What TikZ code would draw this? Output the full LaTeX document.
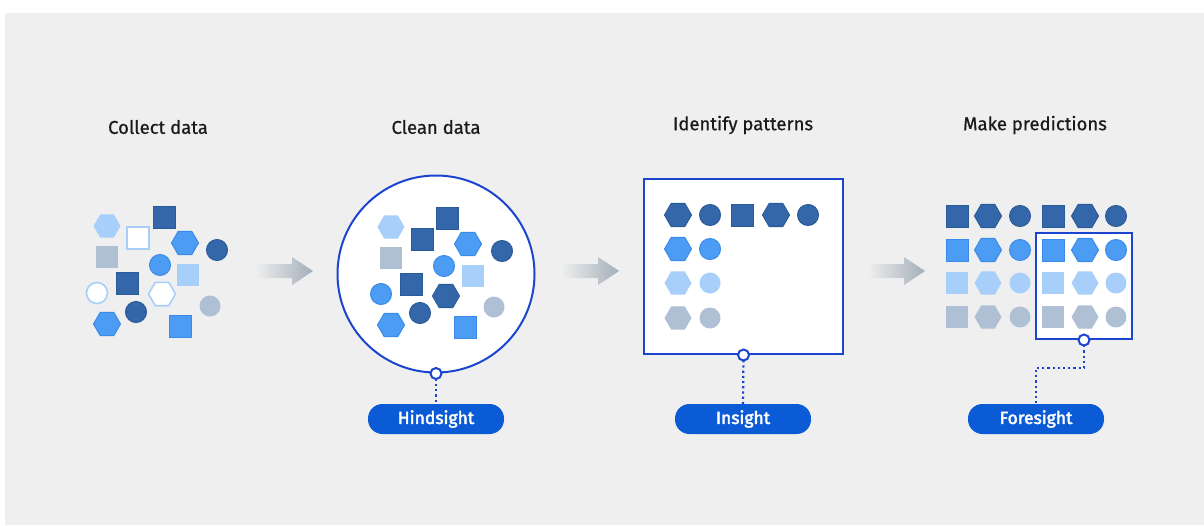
\documentclass[tikz,border=0pt]{standalone}
\usepackage{fontspec}
\setmainfont{Fira Sans}
\newfontfamily\titlefont[FakeBold=0.6]{Fira Sans}
\newfontfamily\pillfont[FakeBold=2.6]{Fira Sans}
\usetikzlibrary{shapes.geometric}
\definecolor{bg}{HTML}{EFEFEF}
\definecolor{cdark}{HTML}{3467A9}
\definecolor{cdarkb}{HTML}{2A5A98}
\definecolor{cmed}{HTML}{4C9CF4}
\definecolor{cmedb}{HTML}{3A8BE8}
\definecolor{clight}{HTML}{A8CEFA}
\definecolor{cgray}{HTML}{AFC0D5}
\definecolor{lineblue}{HTML}{1C45CF}
\definecolor{pillblue}{HTML}{0B5BD6}
\definecolor{arrowgray}{HTML}{A3AFB9}
\definecolor{titlecol}{HTML}{1A1A1A}
\tikzset{
  sq/.pic={\path[pic actions] (-11,-11) rectangle (11,11);},
  hx/.pic={\path[pic actions] (-13.5,0)--(-6.75,-11.7)--(6.75,-11.7)--(13.5,0)--(6.75,11.7)--(-6.75,11.7)--cycle;},
  ci/.pic={\path[pic actions] (0,0) circle (10.5);},
  dk/.style={fill=cdark, draw=cdarkb, line width=1},
  md/.style={fill=cmed, draw=cmedb, line width=1},
  lt/.style={fill=clight},
  gy/.style={fill=cgray},
  wh/.style={fill=white, draw=clight, line width=1.6},
  title/.style={font=\titlefont\fontsize{18.5}{20}\selectfont, text=titlecol},
  pill/.style={fill=pillblue, text=white, rounded corners=14.5, minimum width=136, minimum height=30, inner sep=0, font=\pillfont\fontsize{17.5}{19}\selectfont},
  marker/.style={circle, fill=white, draw=lineblue, line width=2, minimum size=11, inner sep=0},
  dots/.style={draw=lineblue, line width=2.2, dash pattern=on 2.2 off 3},
  frame/.style={draw=lineblue, line width=2},
  garrow/.style={left color=bg, right color=arrowgray, shading angle=90}
}
\begin{document}
\begin{tikzpicture}[x=1pt,y=-1pt]
\useasboundingbox (0,0) rectangle (1204,525);
\fill[white] (0,0) rectangle (1204,525);
\fill[bg] (5,13) rectangle (1204,525);

% titles
\node[title] (t1) at (158,127) {Collect data};
\node[title] (t2) at (436,127) {Clean data};
\node[title] (t3) at (743,125) {Identify patterns};
\node[title] (t4) at (1035,125) {Make predictions};

% arrows
\foreach \a in {0,306,612}{
  \shade[garrow] (255+\a,264) -- (292+\a,264) -- (292+\a,257) -- (313+\a,271) -- (292+\a,285) -- (292+\a,278) -- (255+\a,278) -- cycle;
}

% Collect data
\pic[lt] at (107,226) {hx};
\pic[dk] at (164,217) {sq};
\pic[wh] at (138,238) {sq};
\pic[md] at (185,243) {hx};
\pic[dk] at (217,250) {ci};
\pic[gy] at (107,257) {sq};
\pic[md] at (160,265) {ci};
\pic[lt] at (188,275) {sq};
\pic[dk] at (127,283) {sq};
\pic[wh] at (97,293) {ci};
\pic[wh] at (162,294) {hx};
\pic[gy] at (210,306) {ci};
\pic[dk] at (136,312) {ci};
\pic[md] at (107,324) {hx};
\pic[md] at (180,326) {sq};

% Clean data
\node[circle, fill=white, frame, minimum size=197, inner sep=0] (circ) at (436,274) {};
\pic[lt] at (391,227) {hx};
\pic[dk] at (447,218) {sq};
\pic[dk] at (422,239) {sq};
\pic[md] at (468,244) {hx};
\pic[dk] at (502,251) {ci};
\pic[gy] at (391,258) {sq};
\pic[md] at (444,266) {ci};
\pic[lt] at (473,276) {sq};
\pic[dk] at (411,284) {sq};
\pic[md] at (381,294) {ci};
\pic[dk] at (446,296) {hx};
\pic[gy] at (494,307) {ci};
\pic[dk] at (420,313) {ci};
\pic[md] at (391,325) {hx};
\pic[md] at (465,327) {sq};
\node[pill] (p1) at (436,419) {Hindsight};
\draw[dots] (circ.south) -- (p1.north);
\node[marker] (m1) at (circ.south) {};

% Identify patterns
\node[rectangle, fill=white, frame, minimum width=199, minimum height=175, inner sep=0] (box) at (743.5,266.5) {};
\pic[dk] at (678,215) {hx};
\pic[dk] at (710,215) {ci};
\pic[dk] at (742,215) {sq};
\pic[dk] at (776,215) {hx};
\pic[dk] at (808,215) {ci};
\pic[md] at (678,249) {hx};
\pic[md] at (710,249) {ci};
\pic[lt] at (678,283) {hx};
\pic[lt] at (710,283) {ci};
\pic[gy] at (678,318) {hx};
\pic[gy] at (710,318) {ci};
\node[pill] (p2) at (743,419) {Insight};
\draw[dots] (box.south) -- (p2.north);
\node[marker] (m2) at (box.south) {};

% Make predictions
\fill[white] (1036,233) rectangle (1132,339);
\foreach \y/\s in {216/dk,250/md,283/lt,317/gy}{
  \pic[\s] at (957,\y) {sq};
  \pic[\s] at (988,\y) {hx};
  \pic[\s] at (1020,\y) {ci};
  \pic[\s] at (1053,\y) {sq};
  \pic[\s] at (1085,\y) {hx};
  \pic[\s] at (1116,\y) {ci};
}
\node[rectangle, frame, minimum width=96, minimum height=106, inner sep=0] (fbox) at (1084,286) {};
\node[pill] (p3) at (1036,419) {Foresight};
\draw[dots] (fbox.south) -- ++(0,28) -| (p3.north);
\node[marker] (m3) at (fbox.south) {};
\end{tikzpicture}
\end{document}
